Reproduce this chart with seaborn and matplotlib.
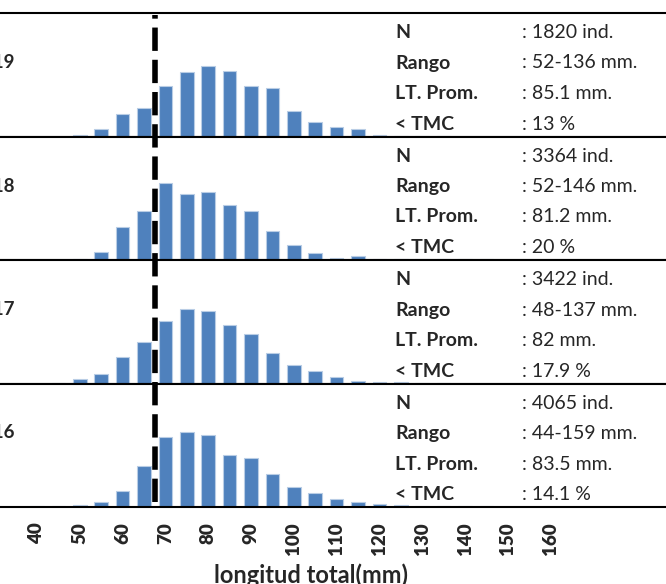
import pandas as pd
import seaborn as sns
import matplotlib.pyplot as plt
from matplotlib.lines import Line2D
from matplotlib import transforms

# Length classes (mm) and frequency (%) per year
bins = list(range(40, 165, 5))
years = ["2019", "2018", "2017", "2016"]
pct_2019 = [0, 0, 0.3, 1.6, 4.8, 6.1, 10.7, 13.6, 14.9, 13.9, 10.7, 10.3, 5.4,
            3.1, 2.1, 1.6, 0.4, 0.2, 0.2, 0.2, 0, 0, 0, 0, 0]
pct_2018 = [0, 0, 0.3, 1.8, 7.1, 10.4, 16.4, 14.1, 14.5, 11.7, 10.4, 6.1, 3.1,
            1.4, 0.5, 0.8, 0.3, 0.2, 0.2, 0.2, 0.15, 0.15, 0, 0, 0]
pct_2017 = [0, 0.2, 0.9, 2.0, 5.7, 8.8, 13.3, 15.7, 15.3, 12.4, 10.4, 6.5, 4.0,
            2.6, 1.3, 0.6, 0.4, 0.25, 0.2, 0.15, 0, 0, 0, 0, 0]
pct_2016 = [0.15, 0.15, 0.4, 1.0, 3.3, 8.7, 14.9, 15.9, 15.2, 11.0, 10.4, 7.1, 4.2,
            2.9, 1.7, 1.0, 0.7, 0.4, 0.3, 0.2, 0.15, 0.15, 0.1, 0.1, 0]
tmc = 67.5

# Summary stats per year
stat_labels = ["N", "Rango", "LT. Prom.", "< TMC"]
n_ind = ["1820", "3364", "3422", "4065"]
rango = ["52-136", "52-146", "48-137", "44-159"]
lt_prom = ["85.1", "81.2", "82", "83.5"]
bajo_tmc = ["13", "20", "17.9", "14.1"]

series = [pct_2019, pct_2018, pct_2017, pct_2016]

sns.set_style("white")
plt.rcParams["font.family"] = ["Lato", "DejaVu Sans"]

fig = plt.figure(figsize=(6.66, 5.84), dpi=100)
top = 1 - 13 / 584
h = 123.5 / 584
axes = []
for i, (yr, pct) in enumerate(zip(years, series)):
    ax = fig.add_axes([0, top - (i + 1) * h, 1, h])
    axes.append(ax)
    df = pd.DataFrame({"lt": bins, "pct": pct})
    df = df[df["pct"] > 0]
    sns.barplot(data=df, x="lt", y="pct", native_scale=True, width=0.64,
                color="#4F81BD", saturation=1, edgecolor="#B9CDE5",
                linewidth=0.8, ax=ax)
    ax.set_xlim(31.35, 186.96)
    ax.set_ylim(0, 26.2)
    ax.set_xlabel("")
    ax.set_ylabel("")
    ax.set_yticks([])
    for s in ["left", "right"]:
        ax.spines[s].set_visible(False)
    for s in ["top", "bottom"]:
        ax.spines[s].set_linewidth(1.5)
        ax.spines[s].set_color("black")

    # year label (partly cut by the left edge, as in the original)
    fig.text(15 / 666, 1 - (13 + 123.5 * i + 55) / 584, yr, ha="right",
             va="baseline", fontsize=13.5, fontweight="bold")

    values = [f": {n_ind[i]} ind.", f": {rango[i]} mm.",
              f": {lt_prom[i]} mm.", f": {bajo_tmc[i]} %"]
    for j, (lab, val) in enumerate(zip(stat_labels, values)):
        yy = 1 - (25 + 30.5 * j) / 123.5
        ax.text(395 / 666, yy, lab, transform=ax.transAxes, ha="left",
                va="baseline", fontsize=14, fontweight="bold")
        ax.text(522 / 666, yy, val, transform=ax.transAxes, ha="left",
                va="baseline", fontsize=14)

    if i < len(years) - 1:
        ax.set_xticks([])
    else:
        ticks = list(range(40, 161, 10))
        ax.set_xticks(ticks)
        ax.set_xticklabels([str(t) for t in ticks], rotation=90,
                           fontweight="heavy", fontsize=13.5)
        ax.tick_params(axis="x", length=0, pad=11)

# dashed TMC line across all panels
trans = transforms.blended_transform_factory(axes[0].transData, fig.transFigure)
y0 = axes[-1].get_position().y0 + 5 / 584
y1 = axes[0].get_position().y1 - 2 / 584
fig.add_artist(Line2D([tmc, tmc], [y0, y1], transform=trans, color="black",
                      lw=4, dashes=(4.2, 1.6), solid_capstyle="butt",
                      dash_capstyle="butt", zorder=10))

fig.text(311 / 666, 1 / 584, "longitud total(mm)", ha="center",
         va="baseline", fontsize=17, fontweight="bold")

fig.savefig("out.png", dpi=100)
